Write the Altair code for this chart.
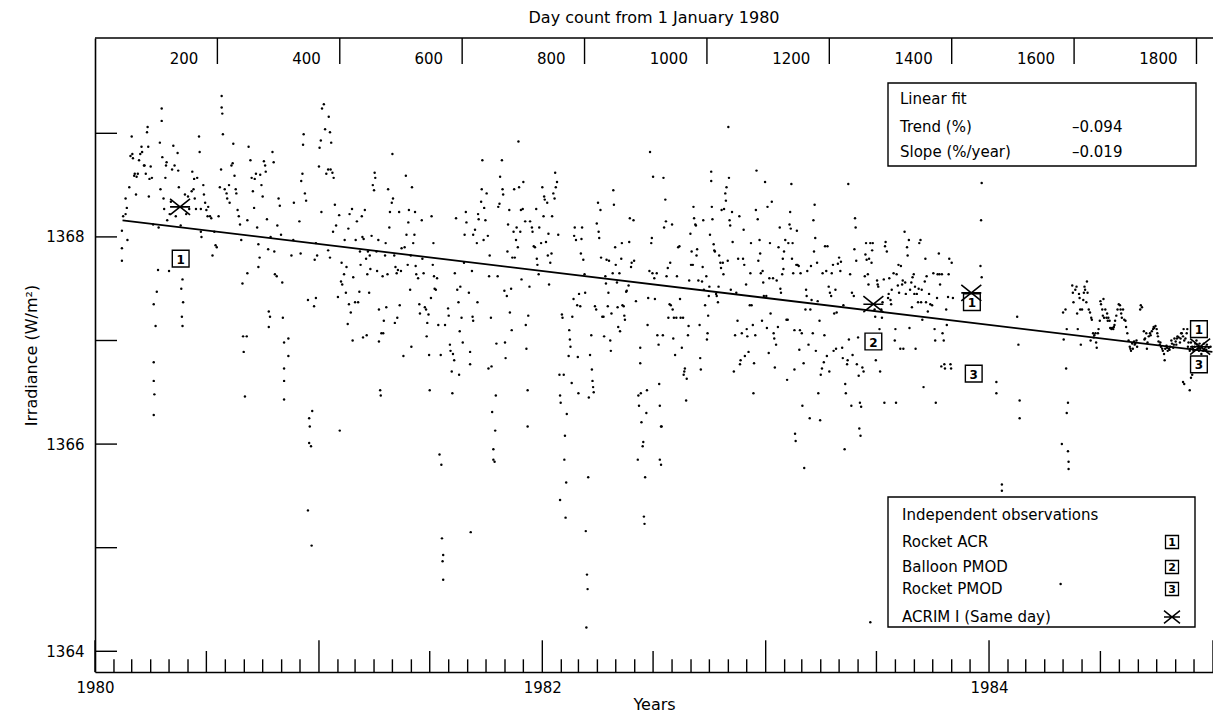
import altair as alt
import pandas as pd

FONT = "DejaVu Sans"
W, H = 1118, 634

DAY_DOMAIN = [0, 1827]
IRR_DOMAIN = [1363.80, 1369.92]

YEAR_LABEL_DAYS = [0, 731, 1461]
YEAR_LABELS = ["1980", "1982", "1984"]
TOP_TICK_DAYS = [200, 400, 600, 800, 1000, 1200, 1400, 1600, 1800]
Y_TICKS = [1364, 1365, 1366, 1367, 1368, 1369]
Y_LABELS = [1364, 1366, 1368]

# daily ACRIM I values (day count from 1 Jan 1980, W/m2)
SEG_1980A = [(44,1368.06),(44,1367.89),(44,1367.77),(46,1368.20),(50,1368.22),(50,1368.37),(52,1368.28),(53,1367.97),(56,1368.48),(58,1368.78),
(60,1368.97),(61,1368.80),(62,1368.76),(64,1368.59),(65,1368.61),(67,1368.41),(68,1368.58),(70,1368.61),(72,1368.74),(74,1368.80),
(76,1368.87),(77,1368.82),(80,1368.69),(81,1368.69),(83,1368.61),(85,1369.01),(86,1369.06),(87,1368.87),(88,1368.39),(89,1368.56),
(91,1368.68),(93,1368.57),(95,1368.12),(96,1367.35),(96,1366.79),(96,1366.61),(97,1366.48),(96,1366.28),(99,1367.14),(101,1367.47),
(103,1367.68),(104,1368.09),(106,1368.91),(107,1368.46),(109,1369.12),(109,1369.24),(110,1368.77),(112,1368.37),(113,1368.27),(115,1368.57),
(116,1368.69),(117,1368.72),(118,1368.16),(121,1367.67),(122,1368.22),(124,1368.34),(126,1368.65),(128,1368.88),(130,1368.69),(132,1368.20),
(135,1368.81),(136,1368.64),(137,1368.48),(140,1368.11),(141,1367.50),(143,1367.59),(144,1367.37),(142,1367.23),(143,1367.14),(147,1368.41),
(149,1368.22),(152,1368.39),(154,1368.27),(158,1368.44),(159,1368.63),(161,1368.46),(162,1368.56),(163,1368.37),(165,1368.27),(167,1368.57),
(170,1368.97),(171,1368.82),(173,1368.27),(173,1368.05),(174,1368.00),(177,1368.50),(178,1368.41),(180,1368.33),(182,1368.26),(184,1368.20),
(185,1368.29),(188,1368.20),(190,1368.18),(192,1367.82),(195,1368.05),(197,1367.92),(199,1367.90),(202,1368.20),(204,1368.48),(206,1368.65),
(207,1369.36),(207,1369.25),(208,1369.19),(209,1368.99),(212,1368.46),(215,1368.42),(216,1368.37),(219,1368.50),(220,1368.33),(223,1368.69),
(225,1368.71),(226,1368.90),(228,1368.59),(230,1368.46),(231,1368.42),(233,1368.26),(235,1368.20),(237,1368.12),(239,1367.97),(241,1367.55),
(242,1367.04),(243,1366.89),(245,1366.46),(248,1367.04),(249,1367.65),(249,1368.16),(251,1368.87),(254,1368.74),(256,1368.57),(258,1368.44),
(260,1368.28),(261,1368.56),(263,1368.61),(265,1368.09),(267,1367.71),(267,1367.93),(269,1367.80),(270,1368.60),(272,1368.50),(274,1368.39),
(276,1368.73),(278,1368.69),(279,1368.63),(281,1368.17),(283,1367.88),(284,1367.28),(284,1367.13),(286,1367.23),(287,1368.00),(290,1368.82),
(292,1368.72),(293,1367.86),(294,1367.64),(297,1367.62),(298,1368.11),(300,1368.37),(302,1368.30),(304,1368.02),(306,1367.56),(307,1367.22),
(309,1366.98),(309,1366.73),(309,1366.61),(309,1366.43)]

SEG_1980B = [(316,1367.02),(316,1366.85),(321,1367.82),(324,1367.97),(325,1368.33),(334,1368.15),(336,1367.84),(337,1368.54),(339,1368.61),(340,1368.89),
(341,1368.99),(343,1368.42),(345,1368.35),(348,1367.39),(350,1366.25),(351,1366.17),(350,1366.01),(353,1365.98),(355,1366.32),(348,1365.36),
(354,1365.02),(358,1367.33),(361,1367.41),(359,1367.78),(361,1367.94),(363,1367.82),(366,1368.68),(367,1368.86),(369,1368.93),(370,1368.24),
(371,1369.24),(374,1369.28),(376,1369.04),(378,1368.61),(381,1368.65),(382,1369.16),(384,1369.01),(385,1368.65),(386,1368.91),(388,1368.62),
(390,1368.57),(392,1368.31),(389,1368.05),(381,1367.87),(384,1367.80),(394,1368.11),(397,1367.42),(399,1368.21),(400,1366.13),(402,1367.57),
(403,1367.75),(404,1367.54),(407,1367.64),(408,1367.97),(410,1367.46),(411,1367.71),(413,1367.16),(414,1368.08),(415,1367.35),(416,1368.22),
(418,1367.27),(420,1368.27),(421,1367.00),(422,1367.61),(425,1367.37),(426,1367.97),(428,1368.15),(430,1367.37),(432,1367.47),(433,1367.86),
(434,1367.73),(436,1368.20),(437,1368.00),(438,1367.03),(439,1367.98),(441,1368.26),(443,1367.79),(444,1367.05),(445,1367.64),(446,1367.86),
(448,1367.46),(449,1367.82),(450,1367.69),(452,1368.01),(454,1368.50),(456,1368.45),(457,1368.62),(458,1368.57),(460,1367.86),(461,1367.67),
(463,1367.97),(464,1367.30),(464,1366.99),(466,1366.52),(467,1366.47),(468,1367.07),(470,1367.62),(471,1367.07),(472,1367.19),(474,1367.82),
(475,1367.94),(476,1367.32),(478,1367.64),(479,1368.46),(481,1368.09),(482,1368.24),(485,1368.33),(486,1368.80),(487,1368.37),(489,1367.82),
(490,1367.17),(491,1367.71),(493,1367.65),(494,1367.22),(495,1367.68),(497,1368.24),(498,1367.34),(500,1367.67),(501,1367.89),(504,1366.85),
(506,1367.90),(508,1368.59),(509,1368.02),(511,1367.73),(512,1368.14),(513,1368.26),(515,1367.49),(516,1367.82),(517,1366.94),(518,1368.48),
(520,1367.94),(522,1368.02),(523,1368.24),(524,1367.72),(525,1367.64),(528,1367.60),(530,1367.35),(531,1367.26),(534,1368.16),(535,1367.79),
(537,1367.65),(539,1367.32),(541,1367.30),(542,1367.04),(543,1367.17),(545,1367.25),(546,1366.86),(547,1366.52),(549,1367.41),(550,1368.20),
(552,1367.73),(553,1367.94),(554,1367.62),(555,1367.50),(557,1367.49),(559,1367.60),(561,1367.15),(563,1365.90),(566,1365.80),(565,1366.86),
(567,1365.09),(569,1364.93),(568,1364.87),(569,1364.69),(572,1367.15),(577,1367.31),(578,1367.24),(580,1366.96),(581,1366.90),(583,1366.70),
(584,1366.49),(585,1366.87),(587,1366.81),(588,1367.65),(590,1368.18),(592,1367.49),(594,1367.37),(595,1366.67),(596,1367.09),(597,1367.52),
(599,1367.22),(601,1366.98),(603,1367.75),(604,1368.02),(606,1368.24),(607,1368.14)]

SEG_1981 = [(613,1366.89),(613,1366.77),(614,1365.15),(611,1367.46),(616,1367.67),(618,1368.02),(617,1367.23),(618,1367.19),(621,1368.07),(624,1367.94),
(625,1367.37),(626,1368.22),(627,1368.17),(631,1368.34),(632,1368.46),(633,1368.74),(635,1367.97),(636,1368.28),(638,1368.16),(640,1368.42),
(642,1368.01),(643,1366.73),(644,1367.62),(645,1367.82),(647,1367.22),(648,1366.75),(649,1366.31),(651,1365.95),(651,1365.85),(653,1365.83),
(654,1366.13),(655,1366.47),(656,1366.97),(658,1367.62),(659,1368.29),(661,1368.32),(662,1368.58),(665,1368.74),(666,1368.46),(667,1368.41),
(669,1367.48),(670,1366.98),(671,1366.83),(673,1367.43),(674,1367.86),(675,1368.12),(677,1368.26),(678,1367.27),(680,1367.50),(681,1367.10),
(682,1367.80),(684,1368.05),(685,1368.46),(686,1367.80),(688,1367.97),(689,1368.09),(691,1367.90),(692,1368.92),(693,1368.48),(695,1368.05),
(696,1368.26),(697,1367.59),(699,1368.27),(700,1368.53),(703,1368.15),(704,1367.15),(705,1366.92),(707,1366.52),(707,1366.17),(708,1367.24),
(710,1367.52),(711,1368.15),(714,1368.09),(715,1368.05),(717,1367.91),(719,1367.90),(721,1368.27),(722,1367.79),(723,1367.73),(725,1367.64),
(726,1368.09),(729,1367.94),(731,1368.48),(733,1368.20),(734,1368.39),(735,1368.36),(737,1367.95),(739,1368.33),(740,1367.82),(741,1368.03),
(742,1367.54),(744,1367.75),(746,1367.84),(747,1368.20),(749,1368.42),(751,1368.37),(752,1368.62),(753,1368.48),(755,1368.53),(757,1368.02),
(759,1366.67),(760,1366.47),(761,1366.40),(763,1367.25),(764,1367.22),(766,1366.67),(767,1365.85),(768,1366.08),(770,1365.63),(769,1365.29),
(760,1365.46),(771,1366.29),(774,1366.85),(775,1367.10),(776,1367.01),(777,1366.94),(779,1366.59),(780,1367.23),(782,1367.40),(783,1368.01),
(784,1368.09),(786,1367.97),(788,1367.34),(789,1366.84),(790,1366.49),(791,1367.45),(793,1367.33),(794,1367.84),(795,1367.98),(796,1368.09),
(798,1367.78),(800,1367.64),(801,1367.46),(802,1365.16),(804,1364.74),(805,1364.60),(803,1364.23),(806,1365.68),(807,1366.45),(809,1366.86),
(811,1367.05),(812,1366.72),(813,1366.61),(814,1366.55),(815,1366.50),(817,1367.33),(819,1367.30),(820,1368.13),(822,1368.33),(823,1368.05),
(824,1367.99),(826,1368.26),(827,1367.80),(829,1367.23),(831,1367.23),(832,1367.04),(834,1367.62),(835,1367.55),(836,1367.78),(838,1367.33),
(839,1367.46),(840,1367.77),(842,1367.00),(843,1366.90),(844,1367.26),(846,1367.65),(847,1368.45),(848,1368.31),(850,1367.90),(851,1367.73),
(853,1367.56),(854,1367.32),(855,1367.13),(857,1367.65),(858,1367.09),(860,1367.79),(861,1367.94),(862,1367.34),(864,1367.33),(865,1367.24),
(866,1367.20),(868,1367.47),(869,1367.48),(872,1367.53),(873,1367.95),(874,1368.18),(876,1367.71),(877,1367.75),(880,1368.16),(881,1367.77),
(884,1367.38),(887,1365.85),(888,1366.47),(889,1366.37),(891,1366.93),(891,1366.78),(892,1366.49),(893,1366.21),(895,1365.98),(896,1366.02),
(897,1365.30),(898,1365.23),(899,1365.68),(901,1366.30),(902,1366.52),(903,1367.15),(904,1367.41),(906,1367.67),(907,1368.82),(909,1367.94),
(910,1367.99),(911,1367.65),(912,1368.58),(914,1367.60)]

SEG_1982 = [(915,1367.40),(918,1367.65),(921,1366.96),(919,1367.05),(922,1366.58),(923,1366.37),(925,1366.17),(926,1366.17),(923,1365.85),(925,1365.80),
(928,1367.05),(929,1368.57),(930,1368.09),(932,1368.36),(933,1368.15),(934,1367.62),(936,1367.70),(937,1367.22),(939,1367.35),(940,1367.75),
(941,1367.34),(943,1368.12),(944,1367.30),(945,1367.02),(946,1367.22),(948,1366.86),(950,1367.22),(951,1367.62),(953,1367.90),(955,1367.91),
(956,1367.40),(957,1367.22),(959,1366.93),(961,1367.22),(962,1366.67),(963,1366.70),(964,1366.73),(966,1366.42),(967,1366.63),(969,1367.05),
(970,1367.14),(971,1367.58),(973,1368.03),(974,1367.73),(975,1367.86),(977,1367.73),(978,1368.29),(979,1368.18),(981,1368.12),(982,1368.11),
(983,1367.82),(984,1367.88),(986,1367.58),(988,1367.15),(989,1366.83),(990,1366.72),(992,1367.57),(993,1367.71),(994,1368.16),(995,1367.49),
(997,1367.34),(999,1367.62),(1000,1367.01),(1001,1367.07),(1002,1367.24),(1003,1367.43),(1004,1367.52),(1005,1368.02),(1007,1368.54),(1007,1368.63),
(1008,1368.29),(1009,1368.17),(1011,1367.93),(1012,1367.87),(1013,1367.86),(1015,1367.45),(1016,1367.43),(1018,1367.37),(1019,1367.52),(1020,1367.82),
(1022,1367.75),(1023,1367.70),(1024,1368.26),(1026,1367.75),(1027,1367.64),(1028,1368.27),(1030,1368.42),(1031,1368.35),(1032,1368.48),(1034,1367.77),
(1035,1369.06),(1036,1368.57),(1037,1368.16),(1038,1368.11),(1039,1367.49),(1041,1368.24),(1042,1367.95),(1044,1366.70),(1046,1367.05),(1048,1367.46),
(1050,1367.19),(1051,1367.79),(1053,1368.20),(1054,1366.77),(1055,1366.81),(1057,1367.07),(1059,1367.79),(1060,1368.07),(1061,1367.73),(1062,1366.85),
(1064,1367.54),(1065,1367.11),(1066,1367.04),(1068,1366.89),(1070,1367.34),(1071,1367.65),(1072,1367.94),(1073,1367.34),(1075,1367.15),(1076,1366.49),
(1077,1366.78),(1079,1367.05),(1080,1368.26),(1081,1368.64),(1083,1368.17),(1084,1367.77),(1086,1367.97),(1087,1367.84),(1088,1367.65),(1090,1367.19),
(1091,1367.67),(1092,1367.56),(1093,1367.43),(1095,1368.53),(1097,1367.43),(1098,1367.12),(1099,1368.29),(1101,1366.88),(1102,1367.60),(1103,1367.94),
(1104,1367.26),(1106,1368.34),(1108,1367.60),(1109,1367.07),(1110,1367.02),(1111,1366.74),(1113,1366.96),(1114,1367.58),(1116,1367.13),(1117,1367.90),
(1119,1368.09),(1120,1367.50),(1121,1367.46),(1123,1367.64),(1124,1367.79),(1125,1367.69),(1126,1367.86),(1128,1367.97),(1130,1367.20),(1131,1366.62),
(1132,1367.20),(1133,1367.94),(1135,1368.12),(1136,1368.24),(1137,1368.08),(1138,1368.51),(1139,1367.79),(1140,1367.94),(1141,1367.65),(1143,1367.10),
(1143,1366.72),(1144,1366.10),(1145,1366.03),(1146,1367.73),(1147,1368.06),(1148,1367.73),(1150,1367.72),(1151,1366.91),(1152,1367.10),(1153,1367.65),
(1155,1367.07),(1156,1366.37),(1158,1366.78),(1159,1365.77),(1161,1367.30),(1162,1367.49),(1163,1367.43),(1164,1367.67),(1166,1366.96),(1168,1366.25),
(1169,1367.30),(1170,1367.72),(1171,1367.39),(1173,1367.07),(1174,1368.16),(1175,1367.86),(1176,1368.31),(1177,1367.99),(1178,1366.90),(1180,1367.75),
(1181,1367.38),(1182,1366.49),(1184,1367.19),(1185,1366.23),(1186,1366.67),(1188,1366.73),(1189,1367.65),(1191,1366.79),(1192,1367.05),(1193,1367.91),
(1195,1367.67),(1196,1366.85),(1197,1367.91),(1199,1367.52),(1200,1366.70),(1201,1367.46),(1203,1367.43),(1204,1367.65),(1206,1367.73),(1207,1366.90),
(1208,1367.26),(1210,1367.49),(1211,1366.92),(1212,1367.27),(1214,1367.74),(1216,1367.80)]

SEG_1983 = [(1218,1367.67),(1219,1367.76),(1221,1366.93),(1222,1366.83),(1223,1367.34),(1225,1365.95),(1226,1366.58),(1227,1366.49),(1229,1366.77),(1230,1366.81),
(1231,1368.51),(1232,1367.01),(1234,1367.64),(1236,1366.37),(1237,1367.46),(1238,1366.86),(1240,1367.43),(1241,1367.88),(1242,1368.18),(1243,1368.09),
(1244,1367.77),(1245,1366.77),(1247,1367.03),(1248,1366.66),(1249,1366.15),(1250,1366.40),(1251,1366.08),(1252,1366.36),(1254,1366.74),(1256,1366.70),
(1258,1367.62),(1259,1367.83),(1260,1367.94),(1261,1367.78),(1263,1367.64),(1264,1367.54),(1265,1367.79),(1267,1367.94),(1269,1367.75),(1270,1367.87),
(1271,1367.94),(1274,1367.30),(1275,1367.23),(1276,1366.81),(1278,1367.58),(1279,1367.54),(1280,1367.52),(1282,1367.11),(1283,1366.70),(1285,1367.30),
(1286,1367.22),(1287,1367.37),(1289,1367.59),(1290,1366.40),(1291,1367.91),(1292,1367.95),(1294,1367.86),(1296,1367.41),(1297,1367.45),(1298,1367.60),
(1300,1367.39),(1301,1367.35),(1302,1367.49),(1305,1367.65),(1307,1367.00),(1308,1367.11),(1309,1366.40),(1310,1367.64),(1312,1367.53),(1313,1367.73),
(1314,1367.46),(1316,1366.92),(1317,1367.72),(1319,1367.54),(1320,1367.58),(1321,1366.92),(1323,1368.05),(1324,1367.56),(1325,1367.45),(1327,1367.90),
(1328,1367.82),(1330,1367.97),(1331,1367.12),(1332,1367.49),(1334,1367.56),(1335,1367.32),(1336,1367.61),(1338,1367.64),(1339,1367.45),(1340,1367.52),
(1341,1366.92),(1343,1367.45),(1345,1367.37),(1346,1367.50),(1347,1367.94),(1349,1367.97),(1350,1367.37),(1351,1367.49),(1352,1367.20),(1354,1366.55),
(1356,1367.57),(1357,1367.79),(1358,1367.37),(1359,1367.62),(1361,1367.28),(1363,1367.45),(1365,1367.35),(1368,1367.34),(1370,1367.65),(1372,1367.11),
(1373,1367.00),(1374,1366.40),(1376,1367.41),(1377,1367.64),(1379,1367.84),(1380,1367.64),(1381,1367.54),(1383,1366.75),(1384,1367.64),(1385,1367.07),
(1387,1367.00),(1388,1366.77),(1389,1366.73),(1391,1367.30),(1392,1367.15),(1394,1367.42),(1395,1367.64),(1396,1367.79),(1398,1366.77),(1399,1366.73),
(1400,1367.75),(1402,1367.41),(1447,1367.72),(1448,1368.16),(1449,1368.52),(1449,1367.61),(1473,1366.60),(1473,1366.49),(1507,1367.23),(1509,1366.96),
(1511,1366.42),(1511,1366.25),(1482,1365.61),(1482,1365.55),(1267,1364.28)]

SEG_1984 = [(1578,1364.65),(1580,1366.00),(1582,1367.27),(1583,1367.01),(1586,1367.30),(1587,1366.73),(1588,1367.11),(1588,1366.30),(1590,1366.40),(1590,1365.93),
(1591,1365.83),(1591,1365.76),(1597,1367.53),(1598,1367.46),(1599,1367.37),(1602,1367.49),(1604,1367.52),(1605,1367.26),(1606,1367.11),(1608,1367.45),
(1609,1367.41),(1610,1367.30),(1611,1366.96),(1613,1367.30),(1615,1367.39),(1616,1367.46),(1617,1367.52),(1618,1367.49),(1620,1367.37),(1621,1367.57),
(1622,1367.46),(1624,1367.30),(1626,1367.27),(1627,1367.00),(1628,1367.22),(1629,1367.20),(1631,1367.07),(1632,1367.03),(1633,1367.05),(1635,1367.07),
(1636,1366.98),(1637,1366.93),(1639,1367.07),(1640,1367.11),(1642,1367.19),(1643,1367.38),(1644,1367.35),(1646,1367.30),(1647,1367.24),(1648,1367.40),
(1649,1367.22),(1651,1367.30),(1653,1367.22),(1654,1367.26),(1655,1367.19),(1656,1367.22),(1658,1367.19),(1659,1367.12),(1661,1367.11),(1662,1367.12),
(1664,1367.11),(1665,1367.13),(1666,1367.15),(1667,1367.19),(1669,1367.24),(1671,1367.30),(1673,1367.35),(1675,1367.34),(1676,1367.30),(1677,1367.26),
(1678,1367.22),(1680,1367.30),(1682,1367.20),(1684,1367.19),(1685,1367.13),(1687,1367.07),(1689,1367.00),(1691,1366.94),(1692,1366.92),(1693,1366.90),
(1695,1366.97),(1696,1366.92),(1698,1366.99),(1699,1366.96),(1700,1366.97),(1702,1367.00),(1703,1366.94),(1708,1367.30),(1709,1367.34),(1711,1367.32),
(1714,1367.09),(1715,1367.01),(1716,1367.02),(1718,1367.07),(1719,1366.92),(1720,1366.98),(1722,1367.04),(1724,1367.07),(1725,1367.05),(1727,1367.09),
(1729,1367.11),(1730,1367.13),(1731,1367.12),(1733,1367.14),(1735,1367.11),(1736,1367.07),(1737,1367.04),(1738,1366.99),(1740,1366.96),(1741,1366.98),
(1742,1366.94),(1744,1366.92),(1745,1366.90),(1747,1366.87),(1748,1366.81),(1749,1366.92),(1751,1366.95),(1752,1366.93),(1753,1366.90),(1755,1366.92),
(1756,1366.91),(1757,1366.94),(1759,1367.00),(1760,1366.97),(1762,1366.93),(1763,1366.96),(1764,1367.02),(1766,1366.99),(1767,1366.96),(1768,1367.02),
(1769,1367.04),(1771,1367.03),(1773,1366.98),(1774,1367.02),(1775,1367.07),(1776,1367.07),(1778,1367.04),(1779,1367.11),(1780,1367.00),(1782,1367.02),
(1784,1367.07),(1785,1367.11),(1786,1366.94),(1787,1366.98),(1789,1366.90),(1790,1366.92),(1791,1366.98),(1793,1366.94),(1794,1366.92),(1795,1366.90),
(1797,1366.94),(1798,1366.97),(1800,1367.00),(1801,1366.96),(1802,1366.92),(1804,1366.90),(1805,1366.97),(1806,1366.92),(1808,1366.87),(1809,1366.94),
(1811,1366.90),(1812,1366.97),(1813,1366.92),(1815,1366.94),(1816,1366.91),(1817,1366.96),(1820,1366.93),(1823,1366.94),(1778,1366.60),(1780,1366.58),
(1789,1366.52),(1793,1366.67),(1791,1366.64)]

FIT_DAYS = [45, 1826]
FIT_IRR = [1368.16, 1366.89]

ACR_DAYS = [140, 1433, 1804]
ACR_IRR = [1367.79, 1367.37, 1367.11]
BALLOON_DAYS = [1272]
BALLOON_IRR = [1366.99]
RPMOD_DAYS = [1436, 1804]
RPMOD_IRR = [1366.68, 1366.77]
SAME_DAYS = [139, 1272, 1432, 1806]
SAME_IRR = [1368.29, 1367.35, 1367.46, 1366.94]

FIT_LABELS = ["Linear fit", "Trend (%)", "Slope (%/year)"]
FIT_VALUES = ["", "\u20130.094", "\u20130.019"]
OBS_TITLE = "Independent observations"
OBS_LABELS = ["Rocket ACR", "Balloon PMOD", "Rocket PMOD", "ACRIM I (Same day)"]
OBS_CODES = ["1", "2", "3", ""]

X_PATH = "M-1,-0.8L1,0.8M-1,0.8L1,-0.8M-1,0L1,0"

# ---------------------------------------------------------------- frames
segs = SEG_1980A + SEG_1980B + SEG_1981 + SEG_1982 + SEG_1983 + SEG_1984
obs = pd.DataFrame(segs, columns=["day", "irr"])
fit = pd.DataFrame({"day": FIT_DAYS, "irr": FIT_IRR})
boxes = pd.DataFrame({
    "day": ACR_DAYS + BALLOON_DAYS + RPMOD_DAYS,
    "irr": ACR_IRR + BALLOON_IRR + RPMOD_IRR,
    "code": ["1"] * len(ACR_DAYS) + ["2"] * len(BALLOON_DAYS) + ["3"] * len(RPMOD_DAYS),
})
same = pd.DataFrame({"day": SAME_DAYS, "irr": SAME_IRR})

month_starts = pd.date_range("1980-01-01", "1985-01-01", freq="MS")
origin = pd.Timestamp("1980-01-01")
ticks_df = pd.DataFrame({
    "day": [(d - origin).days for d in month_starts],
    "kind": ["year" if d.month == 1 else ("half" if d.month == 7 else "month") for d in month_starts],
})
top_df = pd.DataFrame({"day": TOP_TICK_DAYS, "lab": [str(d) for d in TOP_TICK_DAYS]})
yt_df = pd.DataFrame({"irr": Y_TICKS})
one = pd.DataFrame({"k": [0]})

xs = alt.Scale(domain=DAY_DOMAIN, nice=False, zero=False)
ys = alt.Scale(domain=IRR_DOMAIN, nice=False, zero=False)

label_expr = "''"
for d, lab in reversed(list(zip(YEAR_LABEL_DAYS, YEAR_LABELS))):
    label_expr = f"(abs(datum.value - {d}) < 5 ? '{lab}' : {label_expr})"

x_axis = alt.Axis(values=YEAR_LABEL_DAYS, labelExpr=label_expr, ticks=False, tickSize=0, grid=False,
                  domain=True, domainColor="black", domainWidth=1.6, labelFont=FONT, labelFontSize=15,
                  labelColor="black", labelPadding=8, labelFlush=False, title="Years", titleFont=FONT,
                  titleFontSize=16, titleFontWeight="normal", titleColor="black", titlePadding=1)
y_axis = alt.Axis(values=Y_LABELS, ticks=False, tickSize=0, grid=False, domain=True, domainColor="black",
                  domainWidth=1.6, labelFont=FONT, labelFontSize=15, labelColor="black", labelPadding=11,
                  labelFlush=False, format="d", title="Irradiance (W/m\u00b2)", titleFont=FONT, titleFontSize=16,
                  titleFontWeight="normal", titleColor="black", titlePadding=6)


def X():
    return alt.X("day:Q", scale=xs, axis=x_axis)


def Y():
    return alt.Y("irr:Q", scale=ys, axis=y_axis)


points = alt.Chart(obs).mark_circle(size=6, color="black", opacity=1).encode(x=X(), y=Y())
fit_line = alt.Chart(fit).mark_line(color="black", strokeWidth=1.8).encode(x=X(), y=Y())
box_marks = alt.Chart(boxes).mark_point(shape="square", size=280, filled=False, color="black",
                                         strokeWidth=1.4, opacity=1).encode(x=X(), y=Y())
box_text = alt.Chart(boxes).mark_text(font=FONT, fontSize=12, fontWeight="bold", color="black", dy=1).encode(
    x=X(), y=Y(), text="code:N")
same_marks = alt.Chart(same).mark_point(shape=X_PATH, size=400, filled=False, color="black",
                                         strokeWidth=1.6, opacity=1).encode(x=X(), y=Y())

tick_len = {"month": 12.7, "half": 21, "year": 31.7}
bottom_ticks = [
    alt.Chart(ticks_df).transform_filter(alt.datum.kind == k).mark_rule(color="black", strokeWidth=1.4).encode(
        x=X(), y=alt.value(H), y2=alt.value(H - L))
    for k, L in tick_len.items()
]
top_ticks = alt.Chart(top_df).mark_rule(color="black", strokeWidth=1.4).encode(
    x=X(), y=alt.value(0), y2=alt.value(26))
top_labels = alt.Chart(top_df).mark_text(font=FONT, fontSize=15, color="black", align="right",
                                          baseline="middle", dx=-19).encode(
    x=X(), y=alt.value(21), text="lab:N")
left_ticks = alt.Chart(yt_df).mark_rule(color="black", strokeWidth=1.4).encode(
    y=Y(), x=alt.value(0), x2=alt.value(22))
top_border = alt.Chart(one).mark_rule(color="black", strokeWidth=1.6).encode(
    x=alt.value(0), x2=alt.value(W), y=alt.value(0))
title = alt.Chart(one).mark_text(font=FONT, fontSize=16, color="black", baseline="middle").encode(
    x=alt.value(W / 2), y=alt.value(-20), text=alt.value("Day count from 1 January 1980"))

legend = []
legend.append(alt.Chart(one).mark_rect(fillOpacity=0, stroke="black", strokeWidth=1.4).encode(
    x=alt.value(793), x2=alt.value(1101), y=alt.value(45), y2=alt.value(128)))
for lab, val, yy in zip(FIT_LABELS, FIT_VALUES, [61, 89, 114]):
    legend.append(alt.Chart(one).mark_text(font=FONT, fontSize=15, color="black", align="left",
                                           baseline="middle").encode(
        x=alt.value(805), y=alt.value(yy), text=alt.value(lab)))
    if val:
        legend.append(alt.Chart(one).mark_text(font=FONT, fontSize=15, color="black", align="left",
                                               baseline="middle").encode(
            x=alt.value(977), y=alt.value(yy), text=alt.value(val)))

legend.append(alt.Chart(one).mark_rect(fillOpacity=0, stroke="black", strokeWidth=1.4).encode(
    x=alt.value(793), x2=alt.value(1100), y=alt.value(459), y2=alt.value(589)))
legend.append(alt.Chart(one).mark_text(font=FONT, fontSize=15, color="black", align="left",
                                       baseline="middle").encode(
    x=alt.value(807), y=alt.value(477), text=alt.value(OBS_TITLE)))
for lab, code, yy in zip(OBS_LABELS, OBS_CODES, [504, 529, 551, 579]):
    legend.append(alt.Chart(one).mark_text(font=FONT, fontSize=15, color="black", align="left",
                                           baseline="middle").encode(
        x=alt.value(807), y=alt.value(yy), text=alt.value(lab)))
    if code:
        legend.append(alt.Chart(one).mark_point(shape="square", size=169, filled=False, color="black",
                                                strokeWidth=1.3, opacity=1).encode(
            x=alt.value(1077), y=alt.value(yy)))
        legend.append(alt.Chart(one).mark_text(font=FONT, fontSize=11, fontWeight="bold", color="black",
                                               baseline="middle", dy=1).encode(
            x=alt.value(1077), y=alt.value(yy), text=alt.value(code)))
    else:
        legend.append(alt.Chart(one).mark_point(shape=X_PATH, size=256, filled=False, color="black",
                                                strokeWidth=1.5, opacity=1).encode(
            x=alt.value(1077), y=alt.value(yy)))

chart = alt.layer(
    points, fit_line, *bottom_ticks, top_ticks, top_labels, left_ticks, top_border, title,
    box_marks, box_text, same_marks, *legend
).properties(
    width=W, height=H,
    autosize=alt.AutoSizeParams(type="none"),
    padding={"left": 87, "top": 30, "right": 0, "bottom": 45},
).configure_view(strokeWidth=0)

chart.save("out.html", embed_options={"renderer": "svg", "actions": False})
